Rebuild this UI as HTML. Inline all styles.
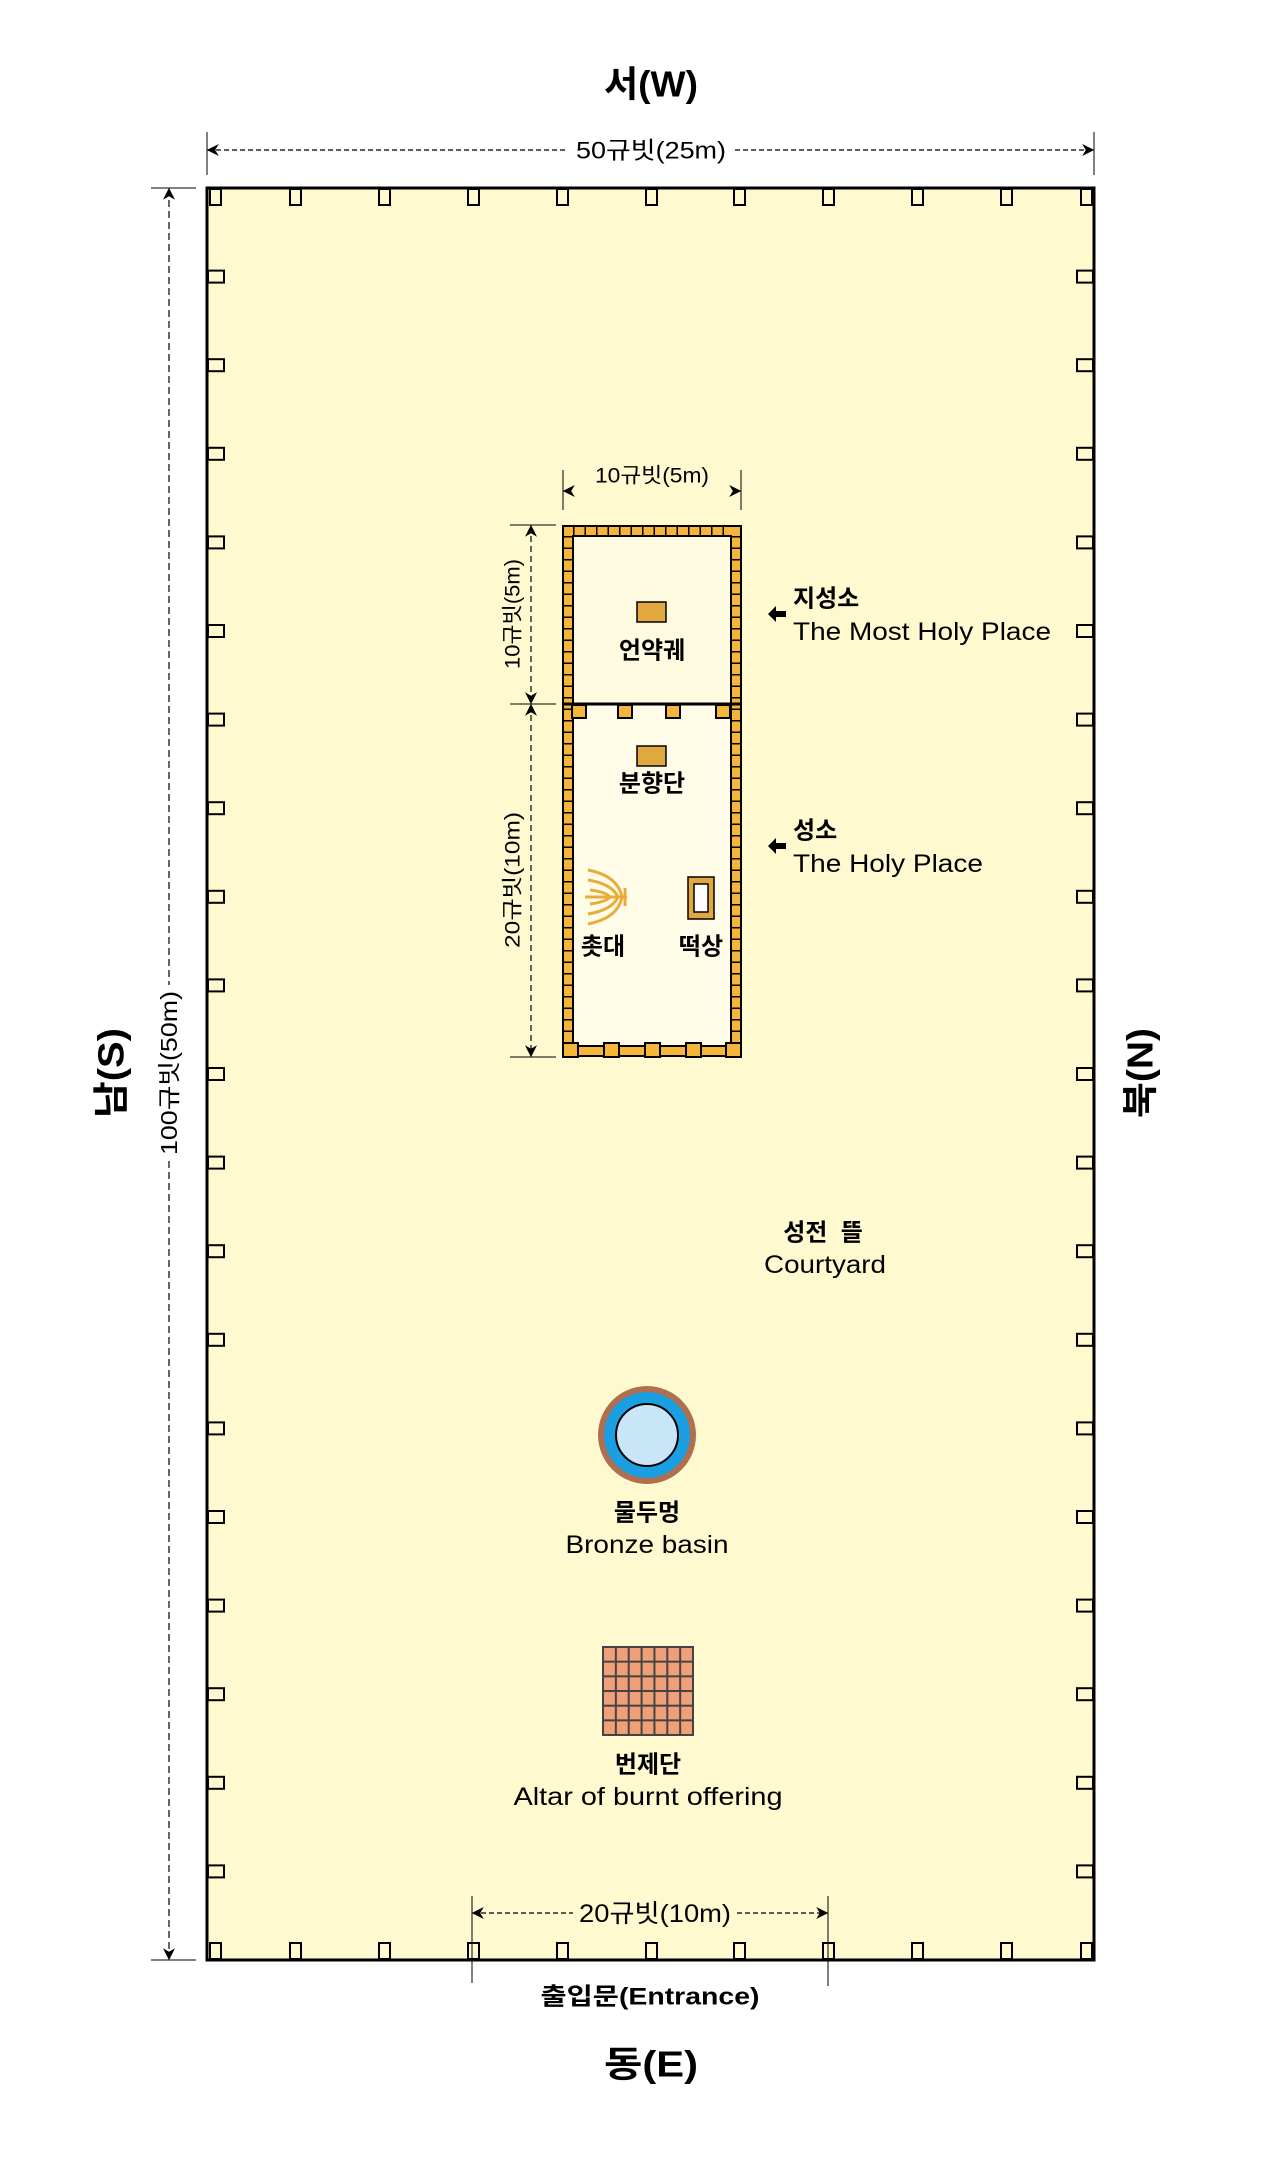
<!DOCTYPE html>
<html><head><meta charset="utf-8"><style>
html,body{margin:0;padding:0;background:#fff;}
svg{display:block;}
text{font-family:"Liberation Sans","Noto Sans CJK KR",sans-serif;fill:#000;}
</style></head><body>
<svg width="1261" height="2169" viewBox="0 0 1261 2169" xmlns="http://www.w3.org/2000/svg">
<defs>
<marker id="ar" viewBox="0 0 10 10" refX="9" refY="5" markerWidth="12" markerHeight="12" orient="auto-start-reverse" markerUnits="userSpaceOnUse"><path d="M0,0 L10,5 L0,10 L3,5 Z" fill="#000"/></marker>
<pattern id="grid" x="603" y="1647" width="12.86" height="14.67" patternUnits="userSpaceOnUse"><rect width="12.86" height="14.67" fill="#f0a078" stroke="#444" stroke-width="2"/></pattern>
</defs>
<text x="651" y="84" font-size="36" font-weight="bold" text-anchor="middle" dominant-baseline="central" textLength="94" lengthAdjust="spacingAndGlyphs">서(W)</text>
<text x="651" y="2064" font-size="36" font-weight="bold" text-anchor="middle" dominant-baseline="central" textLength="94" lengthAdjust="spacingAndGlyphs">동(E)</text>
<text transform="translate(111,1073) rotate(-90)" font-size="36" font-weight="bold" text-anchor="middle" dominant-baseline="central" textLength="90" lengthAdjust="spacingAndGlyphs">남(S)</text>
<text transform="translate(1140,1073) rotate(-90)" font-size="36" font-weight="bold" text-anchor="middle" dominant-baseline="central" textLength="90" lengthAdjust="spacingAndGlyphs">북(N)</text>

<line x1="207" y1="132" x2="207" y2="175" stroke="#000" stroke-width="1"/>
<line x1="1094" y1="132" x2="1094" y2="175" stroke="#000" stroke-width="1"/>
<line x1="208" y1="150" x2="568" y2="150" stroke="#000" stroke-width="1.2" stroke-dasharray="5 3" marker-start="url(#ar)"/>
<line x1="735" y1="150" x2="1093" y2="150" stroke="#000" stroke-width="1.2" stroke-dasharray="5 3" marker-end="url(#ar)"/>
<text x="651" y="151" font-size="24" text-anchor="middle" dominant-baseline="central" textLength="150" lengthAdjust="spacingAndGlyphs">50규빗(25m)</text>

<rect x="207" y="188" width="887" height="1772" fill="#fef9cf" stroke="#000" stroke-width="3"/>
<g fill="#fef9cf" stroke="#000" stroke-width="2">
<rect x="210" y="189" width="11" height="16"/><rect x="290" y="189" width="11" height="16"/><rect x="379" y="189" width="11" height="16"/><rect x="468" y="189" width="11" height="16"/><rect x="557" y="189" width="11" height="16"/><rect x="646" y="189" width="11" height="16"/><rect x="734" y="189" width="11" height="16"/><rect x="823" y="189" width="11" height="16"/><rect x="912" y="189" width="11" height="16"/><rect x="1001" y="189" width="11" height="16"/><rect x="1081" y="189" width="11" height="16"/>
<rect x="210" y="1943" width="11" height="16"/><rect x="290" y="1943" width="11" height="16"/><rect x="379" y="1943" width="11" height="16"/><rect x="468" y="1943" width="11" height="16"/><rect x="557" y="1943" width="11" height="16"/><rect x="646" y="1943" width="11" height="16"/><rect x="734" y="1943" width="11" height="16"/><rect x="823" y="1943" width="11" height="16"/><rect x="912" y="1943" width="11" height="16"/><rect x="1001" y="1943" width="11" height="16"/><rect x="1081" y="1943" width="11" height="16"/>
</g>
<g fill="#fef9cf" stroke="#000" stroke-width="2" id="sideposts"></g>
<script>
(function(){var g=document.getElementById('sideposts');var ns='http://www.w3.org/2000/svg';
for(var i=1;i<20;i++){var y=188+i*88.6-6;
[[208,16],[1077,16]].forEach(function(p){var r=document.createElementNS(ns,'rect');r.setAttribute('x',p[0]);r.setAttribute('y',y);r.setAttribute('width',p[1]);r.setAttribute('height',12);g.appendChild(r);});}})();
</script>

<line x1="151" y1="188" x2="196" y2="188" stroke="#000" stroke-width="1"/>
<line x1="151" y1="1960" x2="196" y2="1960" stroke="#000" stroke-width="1"/>
<line x1="169" y1="189" x2="169" y2="985" stroke="#000" stroke-width="1.2" stroke-dasharray="7 4" marker-start="url(#ar)"/>
<line x1="169" y1="1161" x2="169" y2="1959" stroke="#000" stroke-width="1.2" stroke-dasharray="7 4" marker-end="url(#ar)"/>
<text transform="translate(169,1073) rotate(-90)" font-size="23" text-anchor="middle" dominant-baseline="central" textLength="164" lengthAdjust="spacingAndGlyphs">100규빗(50m)</text>

<line x1="563" y1="470" x2="563" y2="510" stroke="#000" stroke-width="1"/>
<line x1="741" y1="470" x2="741" y2="510" stroke="#000" stroke-width="1"/>
<line x1="564" y1="491" x2="740" y2="491" stroke="#000" stroke-width="1" stroke-opacity="0" marker-start="url(#ar)" marker-end="url(#ar)"/>
<text x="652" y="476" font-size="21" text-anchor="middle" dominant-baseline="central" textLength="114" lengthAdjust="spacingAndGlyphs">10규빗(5m)</text>
<line x1="510" y1="525" x2="556" y2="525" stroke="#000" stroke-width="1"/>
<line x1="510" y1="704" x2="556" y2="704" stroke="#000" stroke-width="1"/>
<line x1="510" y1="1057" x2="556" y2="1057" stroke="#000" stroke-width="1"/>
<line x1="531" y1="526" x2="531" y2="703" stroke="#000" stroke-width="1.2" stroke-dasharray="6 4" marker-start="url(#ar)" marker-end="url(#ar)"/>
<line x1="531" y1="705" x2="531" y2="1056" stroke="#000" stroke-width="1.2" stroke-dasharray="6 4" marker-start="url(#ar)" marker-end="url(#ar)"/>
<text transform="translate(513,614) rotate(-90)" font-size="21" text-anchor="middle" dominant-baseline="central" style="paint-order:stroke" stroke="#fef9cf" stroke-width="6" textLength="110" lengthAdjust="spacingAndGlyphs">10규빗(5m)</text>
<text transform="translate(513,880) rotate(-90)" font-size="21" text-anchor="middle" dominant-baseline="central" style="paint-order:stroke" stroke="#fef9cf" stroke-width="6" textLength="136" lengthAdjust="spacingAndGlyphs">20규빗(10m)</text>

<rect x="563" y="526" width="178" height="530" fill="#f5b53a" stroke="#000" stroke-width="2"/>
<rect x="573" y="536" width="158" height="510" fill="#fffce8" stroke="#000" stroke-width="2"/>
<rect x="574" y="537" width="156" height="166" fill="#fefbe0"/>
<g fill="none">
<line x1="568" y1="536" x2="568" y2="1046" stroke-width="10" stroke="#000" stroke-dasharray="1.5 10"/>
<line x1="736" y1="536" x2="736" y2="1046" stroke-width="10" stroke="#000" stroke-dasharray="1.5 10"/>
<line x1="573" y1="531" x2="731" y2="531" stroke-width="10" stroke="#000" stroke-dasharray="1.5 10"/>
</g>
<line x1="563" y1="704" x2="741" y2="704" stroke="#000" stroke-width="3"/>
<g fill="#f5b53a" stroke="#000" stroke-width="2">
<rect x="572" y="705" width="14" height="13"/><rect x="618" y="705" width="14" height="13"/><rect x="666" y="705" width="14" height="13"/><rect x="716" y="705" width="14" height="13"/>
<rect x="563" y="1043" width="15" height="14"/><rect x="604" y="1043" width="15" height="14"/><rect x="645" y="1043" width="15" height="14"/><rect x="686" y="1043" width="15" height="14"/><rect x="726" y="1043" width="15" height="14"/>
</g>
<rect x="637" y="602" width="29" height="20" fill="#e0a83e" stroke="#000" stroke-width="1.5"/>
<text x="652" y="651" font-size="24" font-weight="bold" text-anchor="middle" dominant-baseline="central">언약궤</text>
<rect x="637" y="746" width="29" height="20" fill="#e0a83e" stroke="#000" stroke-width="1.5"/>
<text x="652" y="784" font-size="24" font-weight="bold" text-anchor="middle" dominant-baseline="central">분향단</text>
<g stroke="#e8ac3c" stroke-width="3" fill="none">
<line x1="585" y1="897" x2="627" y2="897"/>
<line x1="625" y1="888" x2="625" y2="906"/>
<path d="M588,880 Q612,884 618,897 Q612,910 588,914"/>
<path d="M588,870 Q618,876 622,897 Q618,918 588,924"/>
<path d="M590,890 Q606,892 610,897 Q606,902 590,904"/>
</g>
<text x="603" y="947" font-size="24" font-weight="bold" text-anchor="middle" dominant-baseline="central">촛대</text>
<rect x="688" y="877" width="26" height="42" fill="#e0a83e" stroke="#000" stroke-width="1.5"/>
<rect x="694" y="884" width="14" height="28" fill="#fff" stroke="#000" stroke-width="1.5"/>
<text x="701" y="947" font-size="24" font-weight="bold" text-anchor="middle" dominant-baseline="central">떡상</text>

<path d="M768,614 L776,606 L776,611 L786,611 L786,617 L776,617 L776,622 Z" fill="#000"/>
<text x="793" y="599" font-size="24" font-weight="bold" dominant-baseline="central">지성소</text>
<text x="793" y="632" font-size="25" dominant-baseline="central" textLength="258" lengthAdjust="spacingAndGlyphs">The Most Holy Place</text>
<path d="M768,846 L776,838 L776,843 L786,843 L786,849 L776,849 L776,854 Z" fill="#000"/>
<text x="793" y="831" font-size="24" font-weight="bold" dominant-baseline="central">성소</text>
<text x="793" y="864" font-size="25" dominant-baseline="central" textLength="190" lengthAdjust="spacingAndGlyphs">The Holy Place</text>

<text x="823" y="1233" font-size="24" font-weight="bold" text-anchor="middle" dominant-baseline="central" xml:space="preserve">성전  뜰</text>
<text x="825" y="1265" font-size="25" text-anchor="middle" dominant-baseline="central" textLength="122" lengthAdjust="spacingAndGlyphs">Courtyard</text>

<circle cx="647" cy="1435" r="49" fill="#b07050"/>
<circle cx="647" cy="1435" r="43" fill="#1aa0e2"/>
<circle cx="647" cy="1435" r="31" fill="#c8e6f8" stroke="#000" stroke-width="2"/>
<text x="647" y="1513" font-size="24" font-weight="bold" text-anchor="middle" dominant-baseline="central">물두멍</text>
<text x="647" y="1545" font-size="25" text-anchor="middle" dominant-baseline="central" textLength="163" lengthAdjust="spacingAndGlyphs">Bronze basin</text>

<rect x="603" y="1647" width="90" height="88" fill="url(#grid)" stroke="#444" stroke-width="2"/>
<text x="648" y="1765" font-size="24" font-weight="bold" text-anchor="middle" dominant-baseline="central">번제단</text>
<text x="648" y="1797" font-size="25" text-anchor="middle" dominant-baseline="central" textLength="269" lengthAdjust="spacingAndGlyphs">Altar of burnt offering</text>

<line x1="472" y1="1896" x2="472" y2="1983" stroke="#000" stroke-width="1"/>
<line x1="828" y1="1896" x2="828" y2="1986" stroke="#000" stroke-width="1"/>
<line x1="473" y1="1913" x2="573" y2="1913" stroke="#000" stroke-width="1.2" stroke-dasharray="5 3" marker-start="url(#ar)"/>
<line x1="737" y1="1913" x2="827" y2="1913" stroke="#000" stroke-width="1.2" stroke-dasharray="5 3" marker-end="url(#ar)"/>
<text x="655" y="1914" font-size="25" text-anchor="middle" dominant-baseline="central" textLength="152" lengthAdjust="spacingAndGlyphs">20규빗(10m)</text>
<text x="650" y="1997" font-size="24" font-weight="bold" text-anchor="middle" dominant-baseline="central" textLength="219" lengthAdjust="spacingAndGlyphs">출입문(Entrance)</text>
</svg>
</body></html>
